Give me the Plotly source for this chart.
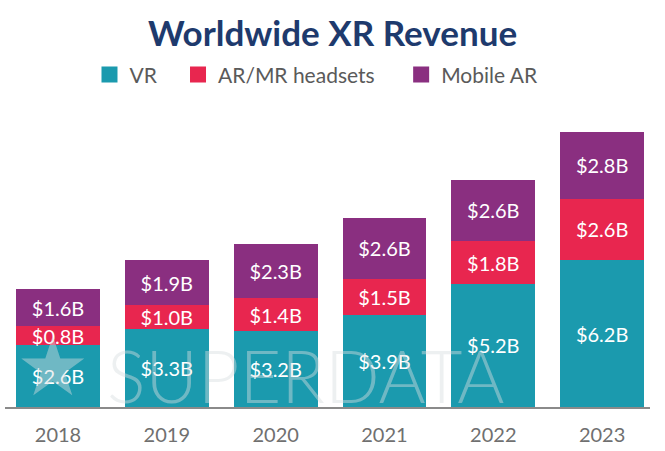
import plotly.graph_objects as go

years = ["2018", "2019", "2020", "2021", "2022", "2023"]
vr = [2.6, 3.3, 3.2, 3.9, 5.2, 6.2]
ar_mr = [0.8, 1.0, 1.4, 1.5, 1.8, 2.6]
mobile_ar = [1.6, 1.9, 2.3, 2.6, 2.6, 2.8]
totals = [5.0, 6.2, 6.9, 7.9, 9.6, 11.6]
series_names = ["VR", "AR/MR headsets", "Mobile AR"]

C_VR = "#1b9aae"
C_AR = "#e8264f"
C_MOB = "#8a2f80"
FONT = "Lato, 'Open Sans', sans-serif"
PADS = ["&nbsp;" * 3, "&nbsp;" * 4, ""]

def lab(v):
    return [f"${x:.1f}B" for x in v]

fig = go.Figure()
for name, vals, col, pad in zip(series_names, [vr, ar_mr, mobile_ar], [C_VR, C_AR, C_MOB], PADS):
    fig.add_trace(go.Bar(
        x=years, y=vals, name=name, marker=dict(color=col, line=dict(width=0)),
        text=lab(vals), textposition="inside", insidetextanchor="middle",
        textfont=dict(color="white", size=20, family=FONT),
        width=0.77, showlegend=False, hoverinfo="skip"))
    fig.add_trace(go.Scatter(
        x=[None], y=[None], mode="markers", name=name + pad,
        marker=dict(symbol="square", size=21, color=col, line=dict(width=0))))

for yr, t in zip(years, totals):
    fig.add_annotation(x=yr, y=t, text=f"${t:.1f}B", showarrow=False,
                       yanchor="bottom", yshift=4,
                       font=dict(size=20, color="#454545", family=FONT))

# watermark
WM = "rgba(215,222,225,0.45)"
fig.add_annotation(xref="paper", yref="paper", x=0.014, y=-0.03, xanchor="left", yanchor="bottom",
                   text="★", showarrow=False, font=dict(size=82, color=WM, family="DejaVu Sans"))
fig.add_annotation(xref="paper", yref="paper", x=0.155, y=-0.045, xanchor="left", yanchor="bottom",
                   text="SUPERDATA", showarrow=False,
                   font=dict(size=72, color=WM, family=FONT, weight=300))

fig.update_layout(
    width=665, height=451,
    barmode="stack",
    paper_bgcolor="white", plot_bgcolor="white",
    margin=dict(l=5, r=15, t=110, b=42),
    title=dict(text="<b>Worldwide XR Revenue</b>", x=0.5, xanchor="center", y=0.925, yanchor="middle",
               font=dict(size=35, color="#1e3a6d", family=FONT)),
    legend=dict(orientation="h", x=0.131, xanchor="left", y=1.1187, yanchor="middle",
                font=dict(size=21, color="#5a5a5a", family=FONT),
                itemwidth=30, traceorder="normal", borderwidth=0),
    uniformtext=dict(minsize=20, mode="show"),
    xaxis=dict(type="category", range=[-0.487, 5.44], showline=True, linecolor="#8a8a8a", linewidth=1.5,
               ticks="", ticklabelstandoff=9,
               tickfont=dict(size=20, color="#707070", family=FONT), showgrid=False),
    yaxis=dict(range=[0, 12.54], visible=False, showgrid=False),
)

fig.write_html("out.html", config={"displayModeBar": False},
               post_script="document.body.style.margin='0';")
